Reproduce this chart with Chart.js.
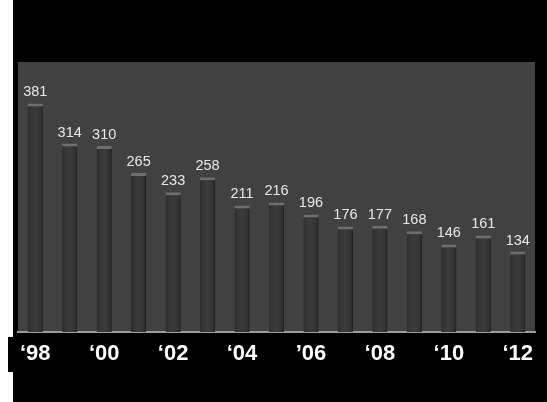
<!DOCTYPE html>
<html>
<head>
<meta charset="utf-8">
<script src="https://cdn.jsdelivr.net/npm/chart.js@4/dist/chart.umd.min.js"></script>
<style>
  body { margin: 0; background: #fff; }
  #wrap { position: relative; width: 547px; height: 402px; overflow: hidden; }
  #bk { position: absolute; left: 13px; top: 0; width: 534px; height: 402px; background: #000; }
  #band { position: absolute; left: 8px; top: 337px; width: 539px; height: 35px; background: #000; }
  canvas { position: absolute; left: 0; top: 0; }
</style>
</head>
<body>
<div id="wrap">
  <div id="bk"></div>
  <div id="band"></div>
  <canvas id="c" width="547" height="402"></canvas>
</div>
<script>
// Years shown on the axis (only every other one is labelled)
const years = ['\u201898', '\u201899', '\u201800', '\u201801', '\u201802', '\u201803', '\u201804', '\u201805',
               '\u201906', '\u201807', '\u201808', '\u201809', '\u201810', '\u201811', '\u201812'];
const values = [381, 314, 310, 265, 233, 258, 211, 216, 196, 176, 177, 168, 146, 161, 134];

// gray plot background
const plotBg = {
  id: 'plotBg',
  beforeDraw(chart) {
    const a = chart.chartArea, ctx = chart.ctx;
    ctx.save();
    ctx.fillStyle = '#414141';
    ctx.fillRect(a.left, a.top, a.right - a.left, a.bottom - a.top);
    ctx.restore();
  }
};

// value labels above each bar
const valueLabels = {
  id: 'valueLabels',
  afterDatasetsDraw(chart) {
    const ctx = chart.ctx;
    const meta = chart.getDatasetMeta(0);
    ctx.save();
    ctx.font = '14.5px "Liberation Sans", Arial, sans-serif';
    ctx.fillStyle = '#e8e8e8';
    ctx.textAlign = 'center';
    ctx.textBaseline = 'alphabetic';
    meta.data.forEach((bar, i) => {
      ctx.fillText(values[i], bar.x, bar.y - 7);
    });
    ctx.restore();
  }
};

function barFill(c) {
  const ch = c.chart;
  if (!ch.chartArea) return '#363636';
  const x = ch.scales.x.getPixelForValue(c.dataIndex);
  const g = ch.ctx.createLinearGradient(x - 7.5, 0, x + 7.5, 0);
  g.addColorStop(0, '#2c2c2c');
  g.addColorStop(0.15, '#353535');
  g.addColorStop(0.5, '#3c3c3c');
  g.addColorStop(0.85, '#333333');
  g.addColorStop(1, '#1e1e1e');
  return g;
}

new Chart(document.getElementById('c').getContext('2d'), {
  type: 'bar',
  data: {
    labels: years,
    datasets: [{
      data: values,
      backgroundColor: barFill,
      borderColor: '#6e6e6e',
      borderWidth: { top: 3, left: 0, right: 0, bottom: 0 },
      borderSkipped: 'bottom',
      categoryPercentage: 1,
      barPercentage: 0.44
    }]
  },
  options: {
    responsive: false,
    animation: false,
    layout: { padding: { left: 18, right: 12, top: 62, bottom: 0 } },
    plugins: { legend: { display: false }, tooltip: { enabled: false } },
    scales: {
      x: {
        grid: { display: false },
        border: { color: '#9c9c9c', width: 2 },
        afterFit(s) { s.height = 70; },
        ticks: {
          autoSkip: false,
          maxRotation: 0,
          padding: 1,
          color: '#ffffff',
          font: { family: '"Liberation Sans", Arial, sans-serif', size: 22, weight: 'bold' },
          callback: (v, i) => (i % 2 === 0 ? years[i] : '')
        }
      },
      y: { display: false, min: 0, max: 450 }
    }
  },
  plugins: [plotBg, valueLabels]
});
</script>
</body>
</html>
